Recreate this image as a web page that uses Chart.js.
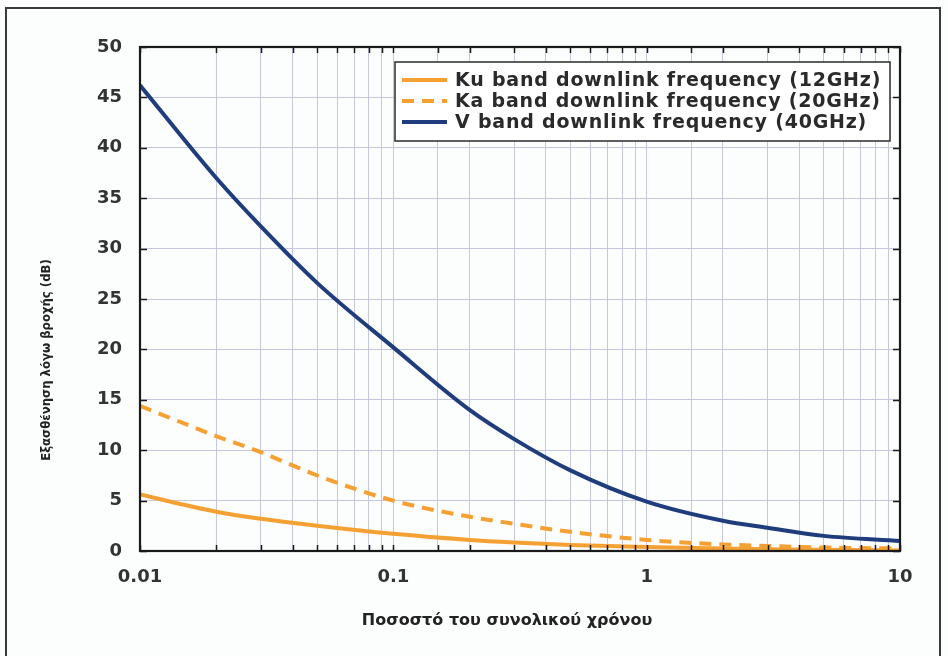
<!DOCTYPE html>
<html>
<head>
<meta charset="utf-8">
<script src="https://cdn.jsdelivr.net/npm/chart.js@4"></script>
<style>
  body { margin: 0; background: #fcfdfd; }
  #wrap { position: relative; width: 948px; height: 656px; }
  #frame { position: absolute; left: 5px; top: 7px; width: 932px; height: 700px;
           border: 2px solid #3a3a3a; border-bottom: none; pointer-events: none; }
</style>
</head>
<body>
<div id="wrap">
  <canvas id="rainChart" width="948" height="656"></canvas>
  <div id="frame"></div>
</div>
<script>
// values
const timePercent = [0.01, 0.02, 0.03, 0.05, 0.1, 0.2, 0.3, 0.5, 1, 2, 3, 5, 10];
const kuValues = [5.6, 3.9, 3.2, 2.5, 1.7, 1.1, 0.85, 0.6, 0.4, 0.25, 0.18, 0.12, 0.05];
const kaValues = [14.4, 11.4, 9.8, 7.5, 5.0, 3.4, 2.7, 1.9, 1.1, 0.65, 0.5, 0.35, 0.25];
const vValues = [46.2, 37.0, 32.2, 26.6, 20.2, 14.0, 11.1, 8.0, 4.9, 3.0, 2.3, 1.5, 1.0];
const seriesLabels = [
    'Ku band downlink frequency (12GHz)',
    'Ka band downlink frequency (20GHz)',
    'V band downlink frequency (40GHz)'
];
const xTickLabels = ['0.01', '0.1', '1', '10'];
const xTitle = 'Ποσοστό του συνολικού χρόνου';
const yTitle = 'Εξασθένηση λόγω βροχής (dB)';

const orange = '#f5a033';
const navy = '#1f3d7c';

function toPoints(vals) {
    return timePercent.map((t, i) => ({ x: t, y: vals[i] }));
}

// border, inward tick marks, axis titles and the boxed legend
const framePlugin = {
    id: 'frame',
    afterDraw(chart) {
        const { ctx, chartArea: a, scales: { x, y } } = chart;
        ctx.save();
        ctx.strokeStyle = '#1a1a1a';
        ctx.lineWidth = 1.5;
        ctx.beginPath();
        x.ticks.forEach(t => {
            const px = Math.round(x.getPixelForValue(t.value)) + 0.5;
            ctx.moveTo(px, a.bottom); ctx.lineTo(px, a.bottom - 6);
            ctx.moveTo(px, a.top); ctx.lineTo(px, a.top + 6);
        });
        y.ticks.forEach(t => {
            const py = Math.round(y.getPixelForValue(t.value)) + 0.5;
            ctx.moveTo(a.left, py); ctx.lineTo(a.left + 7, py);
            ctx.moveTo(a.right, py); ctx.lineTo(a.right - 7, py);
        });
        ctx.stroke();
        ctx.lineWidth = 2.2;
        ctx.strokeRect(a.left, a.top, a.right - a.left, a.bottom - a.top);

        // axis titles
        ctx.fillStyle = '#222';
        ctx.textAlign = 'center';
        ctx.textBaseline = 'middle';
        ctx.font = 'bold 16px "DejaVu Sans"';
        ctx.fillText(xTitle, 507, 621);
        ctx.save();
        ctx.translate(47, 360);
        ctx.rotate(-Math.PI / 2);
        ctx.font = 'bold 13px "DejaVu Sans Condensed"';
        ctx.fillText(yTitle, 0, 0);
        ctx.restore();

        // legend
        const box = { left: 395, top: 62, right: 890, bottom: 141 };
        ctx.fillStyle = '#ffffff';
        ctx.fillRect(box.left, box.top, box.right - box.left, box.bottom - box.top);
        ctx.strokeStyle = '#2a2a2a';
        ctx.lineWidth = 1.5;
        ctx.strokeRect(box.left, box.top, box.right - box.left, box.bottom - box.top);
        ctx.font = 'bold 19px "DejaVu Sans"';
        ctx.letterSpacing = '0.8px';
        ctx.textAlign = 'left';
        chart.data.datasets.forEach((ds, i) => {
            const ly = 80 + i * 21;
            ctx.strokeStyle = ds.borderColor;
            ctx.lineWidth = 4;
            ctx.setLineDash(ds.borderDash || []);
            ctx.beginPath();
            ctx.moveTo(402, ly);
            ctx.lineTo(447, ly);
            ctx.stroke();
            ctx.setLineDash([]);
            ctx.fillStyle = '#2a2a2a';
            ctx.fillText(ds.label, 455, ly + 1);
        });
        ctx.restore();
    }
};

Chart.defaults.font.family = '"DejaVu Sans"';

const ctx = document.getElementById('rainChart').getContext('2d');
new Chart(ctx, {
    type: 'line',
    data: {
        datasets: [
            {
                label: seriesLabels[0],
                data: toPoints(kuValues),
                borderColor: orange,
                borderWidth: 4,
                pointRadius: 0,
                cubicInterpolationMode: 'monotone'
            },
            {
                label: seriesLabels[1],
                data: toPoints(kaValues),
                borderColor: orange,
                borderWidth: 4,
                borderDash: [12, 8],
                pointRadius: 0,
                cubicInterpolationMode: 'monotone'
            },
            {
                label: seriesLabels[2],
                data: toPoints(vValues),
                borderColor: navy,
                borderWidth: 4,
                pointRadius: 0,
                cubicInterpolationMode: 'monotone'
            }
        ]
    },
    options: {
        responsive: false,
        animation: false,
        layout: { padding: { top: 47, right: 48, left: 0, bottom: 0 } },
        plugins: {
            legend: { display: false },
            tooltip: { enabled: false }
        },
        scales: {
            x: {
                type: 'logarithmic',
                min: 0.01,
                max: 10,
                border: { display: false },
                grid: { color: '#c6c6e0', lineWidth: 1, borderDash: [3, 3], drawTicks: false },
                ticks: {
                    autoSkip: false,
                    maxRotation: 0,
                    padding: 16,
                    color: '#333',
                    font: { size: 18, weight: 'bold' },
                    callback: function (v) {
                        const l = Math.log10(v);
                        if (Math.abs(l - Math.round(l)) < 1e-6) {
                            return xTickLabels[Math.round(l) + 2];
                        }
                        return '';
                    }
                },
                afterFit(scale) { scale.height = 105; }
            },
            y: {
                min: 0,
                max: 50,
                border: { display: false },
                grid: { color: '#c6c6e0', lineWidth: 1, borderDash: [7, 3], drawTicks: false },
                ticks: {
                    stepSize: 5,
                    padding: 18,
                    color: '#333',
                    font: { size: 18, weight: 'bold' }
                },
                afterFit(scale) { scale.width = 140; }
            }
        }
    },
    plugins: [framePlugin]
});
</script>
</body>
</html>
